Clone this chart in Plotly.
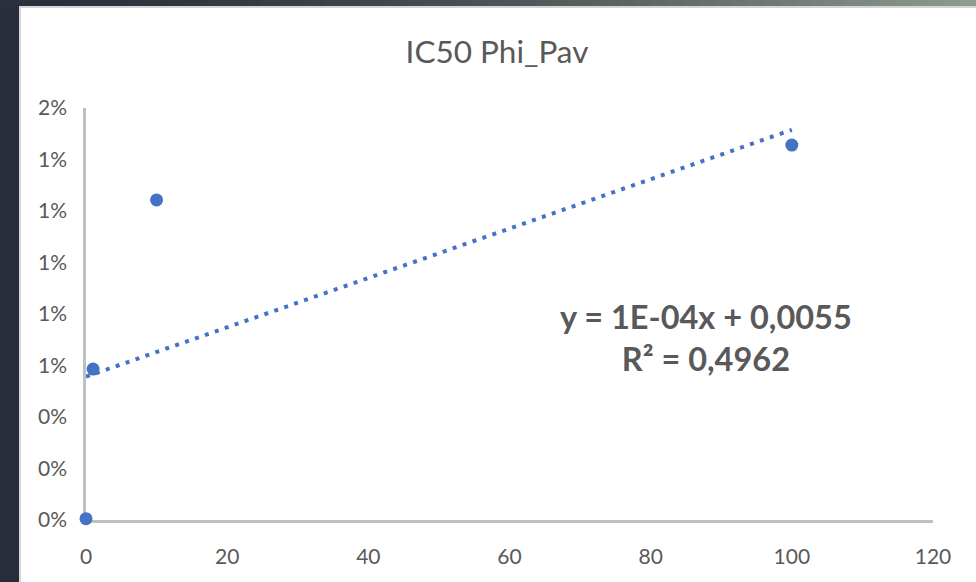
import numpy as np
import plotly.graph_objects as go

# Measured concentrations and IC50 fractions
conc = [0, 1, 10, 100]
ic50 = [0.00005, 0.00586, 0.01243, 0.01456]

x_ticks = [0, 20, 40, 60, 80, 100, 120]
y_ticks = [0, 0.002, 0.004, 0.006, 0.008, 0.010, 0.012, 0.014, 0.016]

title_text = "IC50 Phi_Pav"
eq_text = "y = 1E-04x + 0,0055<br>R² = 0,4962"

# Linear least-squares trend line over the measured range
slope, intercept = np.polyfit(conc, ic50, 1)
trend_x = np.array([min(conc), max(conc)])
trend_y = slope * trend_x + intercept

W, H = 976, 582
TXT = "#595959"
BLUE = "#4472C4"
FONT = "Lato, 'Open Sans', sans-serif"

fig = go.Figure()

fig.add_trace(go.Scatter(
    x=trend_x, y=trend_y, mode="lines",
    line=dict(color=BLUE, width=4, dash="4px,6.5px"),
    hoverinfo="skip", showlegend=False, cliponaxis=False,
))
fig.add_trace(go.Scatter(
    x=conc, y=ic50, mode="markers",
    marker=dict(color=BLUE, size=13),
    showlegend=False, cliponaxis=False,
))

# Slide backdrop: dark strip with a gradient band along the top
shapes = []
n = 60
for i in range(n):
    t = i / (n - 1)
    k = t ** 1.6
    c0 = np.array([0x2a, 0x31, 0x3d])
    c1 = np.array([0x8c, 0x9c, 0x8e])
    c = (c0 + (c1 - c0) * k).astype(int)
    shapes.append(dict(
        type="rect", xref="paper", yref="paper", layer="below",
        x0=(-86 + i * W / n) / 847, x1=(-86 + (i + 1) * W / n + 1) / 847,
        y0=(520 - 7) / 412, y1=(582 - 62) / 412,
        fillcolor=f"rgb({c[0]},{c[1]},{c[2]})", line=dict(width=0),
    ))

# White chart panel
shapes.append(dict(
    type="rect", xref="paper", yref="paper", layer="below",
    x0=(20 - 86) / 847, x1=(W - 86 + 2) / 847,
    y0=(-62 - 2) / 412, y1=(520 - 7) / 412,
    fillcolor="white", line=dict(color="#d6d6d6", width=2),
))

fig.update_layout(
    width=W, height=H,
    margin=dict(l=86, r=43, t=108, b=62),
    paper_bgcolor="#272e3a",
    plot_bgcolor="white",
    font=dict(family=FONT, color=TXT),
    shapes=shapes,
    title=dict(
        text=title_text, x=497 / W, xanchor="center",
        y=1 - 52 / H, yanchor="middle",
        font=dict(family=FONT, size=31.5, color=TXT),
    ),
    xaxis=dict(
        range=[0, 120], tickvals=x_ticks, ticktext=[str(v) for v in x_ticks],
        showgrid=False, zeroline=False, showline=True,
        linecolor="#bfbfbf", linewidth=2.5, ticks="", layer="below traces",
        tickfont=dict(size=21, color=TXT), ticklabelstandoff=16,
    ),
    yaxis=dict(
        range=[0, 0.016], tickvals=y_ticks, tickformat=".0%",
        showgrid=False, zeroline=False, showline=True,
        linecolor="#bfbfbf", linewidth=2.5, ticks="", layer="below traces",
        tickfont=dict(size=21, color=TXT), ticklabelstandoff=12,
    ),
    annotations=[dict(
        text=eq_text, xref="paper", yref="paper",
        x=(706 - 86) / 847, y=(520 - 337) / 412,
        xanchor="center", yanchor="middle", showarrow=False,
        font=dict(family=FONT, size=32.5, color=TXT, weight="bold"),
        align="center",
    )],
)

fig.write_html("out.html")
